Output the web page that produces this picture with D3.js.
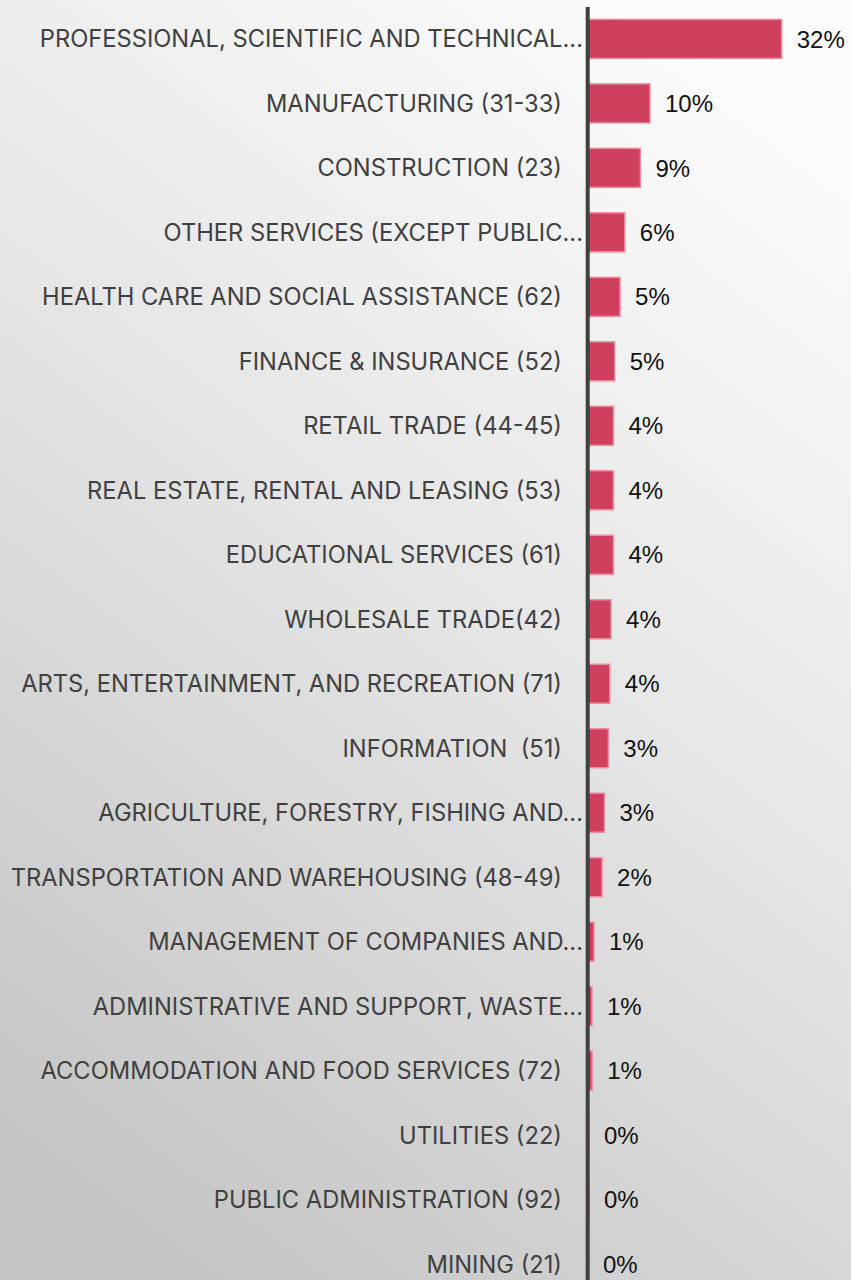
<!DOCTYPE html>
<html>
<head>
<meta charset="utf-8">
<script src="https://cdn.jsdelivr.net/npm/d3@7"></script>
<style>
  html, body { margin: 0; padding: 0; background: #ffffff; }
  svg { display: block; }
</style>
</head>
<body>
<svg id="chart" width="851" height="1280"></svg>
<script>
// Industry share of firms, by NAICS sector
const categories = [
  "PROFESSIONAL, SCIENTIFIC AND TECHNICAL...",
  "MANUFACTURING (31-33)",
  "CONSTRUCTION (23)",
  "OTHER SERVICES (EXCEPT PUBLIC...",
  "HEALTH CARE AND SOCIAL ASSISTANCE (62)",
  "FINANCE & INSURANCE (52)",
  "RETAIL TRADE (44-45)",
  "REAL ESTATE, RENTAL AND LEASING (53)",
  "EDUCATIONAL SERVICES (61)",
  "WHOLESALE TRADE(42)",
  "ARTS, ENTERTAINMENT, AND RECREATION (71)",
  "INFORMATION  (51)",
  "AGRICULTURE, FORESTRY, FISHING AND...",
  "TRANSPORTATION AND WAREHOUSING (48-49)",
  "MANAGEMENT OF COMPANIES AND...",
  "ADMINISTRATIVE AND SUPPORT, WASTE...",
  "ACCOMMODATION AND FOOD SERVICES (72)",
  "UTILITIES (22)",
  "PUBLIC ADMINISTRATION (92)",
  "MINING (21)"
];

// Share of total, as fractions
const shares = [
  0.324, 0.104, 0.088, 0.062, 0.054, 0.0452, 0.043, 0.043, 0.043, 0.039,
  0.037, 0.0345, 0.028, 0.024, 0.0105, 0.0072, 0.0075, 0.002, 0.002, 0.0003
];

const rows = categories.map((c, i) => ({ name: c, value: shares[i] }));

const W = 851, H = 1280;
const axisX = 587.7;
const svg = d3.select("#chart");

// Background: soft grey gradient, lighter at top right
const defs = svg.append("defs");
const grad = defs.append("linearGradient")
  .attr("id", "bg")
  .attr("x1", "0.75").attr("y1", "0")
  .attr("x2", "0.25").attr("y2", "1");
grad.append("stop").attr("offset", "0").attr("stop-color", "#fcfcfc");
grad.append("stop").attr("offset", "0.45").attr("stop-color", "#e6e6e6");
grad.append("stop").attr("offset", "1").attr("stop-color", "#c5c5c5");
svg.append("rect").attr("width", W).attr("height", H).attr("fill", "url(#bg)");

const y = d3.scaleBand()
  .domain(categories)
  .range([6.5, 1296.5])
  .paddingInner(0.395)
  .paddingOuter(0.2);

const x = d3.scaleLinear()
  .domain([0, 0.324])
  .range([axisX, 781.7]);

const fmt = d3.format(".0%");

// Bars
svg.append("g")
  .selectAll("rect")
  .data(rows)
  .join("rect")
  .attr("x", axisX)
  .attr("y", d => y(d.name))
  .attr("width", d => Math.max(0, x(d.value) - axisX))
  .attr("height", y.bandwidth())
  .attr("fill", "#cf3f5e")
  .attr("stroke", "#ea8ea2")
  .attr("stroke-width", 1.5);

// Category labels
svg.append("g")
  .selectAll("text")
  .data(rows)
  .join("text")
  .attr("x", d => d.name.endsWith("...") ? 583 : 562)
  .attr("y", d => y(d.name) + y.bandwidth() / 2)
  .attr("dy", "0.36em")
  .attr("text-anchor", "end")
  .attr("font-family", "Inter, 'Open Sans', sans-serif")
  .attr("font-size", 23.7)
  .attr("fill", "#404040")
  .style("white-space", "pre")
  .text(d => d.name);

// Value labels
svg.append("g")
  .selectAll("text")
  .data(rows)
  .join("text")
  .attr("x", d => x(d.value) + 15)
  .attr("y", d => y(d.name) + y.bandwidth() / 2)
  .attr("dy", "0.36em")
  .attr("font-family", "'Liberation Sans', Arial, sans-serif")
  .attr("font-size", 24)
  .attr("fill", "#111111")
  .text(d => fmt(d.value));

// Category axis line
svg.append("line")
  .attr("x1", axisX).attr("x2", axisX)
  .attr("y1", 7).attr("y2", H)
  .attr("stroke", "#404040")
  .attr("stroke-width", 4);
</script>
</body>
</html>
